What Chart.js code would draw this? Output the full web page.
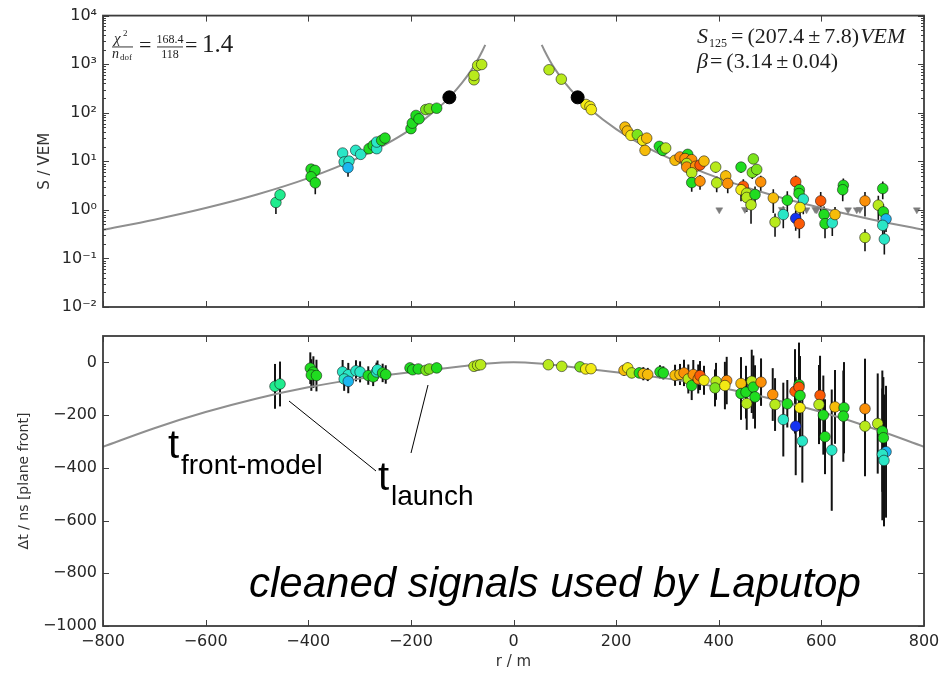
<!DOCTYPE html>
<html><head><meta charset="utf-8">
<script src="https://cdn.jsdelivr.net/npm/chart.js@4.4.1/dist/chart.umd.min.js"></script>
<style>
html,body{margin:0;padding:0;background:#fff;}
#wrap{position:relative;width:951px;height:677px;overflow:hidden;background:#fff;}
canvas{position:absolute;left:0;top:0;}
</style></head><body>
<div id="wrap"><canvas id="top" width="951" height="677"></canvas><canvas id="bot" width="951" height="677"></canvas></div>
<script>
// ---------- tick labels ----------
const xTicks = [-800, -600, -400, -200, 0, 200, 400, 600, 800];
const sTickValues = [0.01, 0.1, 1, 10, 100, 1000, 10000];
const sTickLabels = ['10⁻²', '10⁻¹', '10⁰', '10¹', '10²', '10³', '10⁴'];
const tTicks = [-1000, -800, -600, -400, -200, 0];

// ---------- top panel: signal vs distance ----------
const topR = [-463, -455, -394.5, -386.8, -394.5, -386.3, -333, -330, -320.6, -322.5, -307.6, -297.8, -281.6, -273.3, -266.6, -266.6, -256.9, -250.4, -199.8, -197.2, -190, -184.2, -171.1, -164.1, -149.7, -77, -77, -69.8, -62,
  69.2, 93.2, 141.3, 149, 151.7, 217.3, 221.8, 229, 241.3, 251.8, 259.6, 256.3, 284.2, 290.8, 296.6, 314.8, 324.5, 339.5, 334.3, 347.3, 337.6, 337.6, 355, 363.5, 371.3, 347.3, 347.3, 363.5, 394, 396, 413.6, 417.5, 443.4, 447.9, 443.4, 454.5, 454.5, 467.4, 465.4, 474, 470.7, 462.9, 481.8, 506.3, 509.7, 525.8, 533.6, 550, 557, 556.4, 564.8, 558.4, 550, 557, 598.7, 605.2, 607.1, 621.3, 626.6, 642.8, 641.6, 685, 685, 711, 719.6, 720.8, 726, 719.6, 722.7];
const topS = [1.42, 2.04, 6.9, 6.5, 4.8, 3.6, 14.8, 9.7, 10.1, 7.4, 16.8, 13.9, 18.2, 21.3, 18.2, 24.9, 27, 30.1, 47, 61, 88, 75, 116, 121, 124, 477, 585, 940, 985,
  766, 491, 148, 135, 116, 50.7, 42, 34.2, 35.4, 27, 30, 16.8, 20.3, 16.8, 18.8, 10.5, 12.3, 13.9, 11.4, 10.8, 9.0, 7.6, 7.9, 8.4, 10.1, 5.8, 3.65, 3.9, 7.6, 3.6, 5.0, 3.5, 7.6, 3.07, 2.6, 2.2, 1.8, 11.2, 5.9, 6.8, 2.07, 1.27, 3.76, 1.76, 0.56, 0.80, 1.58, 3.8, 2.6, 2.17, 1.66, 1.12, 0.67, 0.52, 1.53, 0.80, 0.52, 0.54, 0.80, 3.2, 2.6, 1.53, 0.27, 1.25, 2.75, 0.91, 0.65, 0.48, 0.25];
const topErr = [0.6, 0.6, 1.6, 1.6, 1.4, 1.5, 2.2, 2.0, 2.0, 2.6, 2.2, 2.0, 2.4, 2.6, 2.4, 2.8, 3, 3.2, 4, 4.6, 5.5, 5, 6.5, 6.7, 6.8, 14, 16, 20, 20,
  30, 25, 9, 8, 7, 4.5, 4, 3.5, 3.5, 3, 3.2, 2.5, 2.8, 2.5, 2.7, 2, 2.2, 2.4, 2.1, 2, 1.9, 1.8, 1.8, 1.9, 2, 1.6, 1.3, 1.3, 1.8, 1.3, 1.5, 1.3, 1.8, 1.2, 1.1, 1.0, 0.9, 2.2, 1.6, 1.7, 0.95, 0.75, 1.3, 0.9, 0.28, 0.38, 0.85, 1.3, 1.1, 1.0, 0.85, 0.7, 0.3, 0.26, 0.8, 0.38, 0.26, 0.25, 0.35, 1.2, 1.1, 0.8, 0.13, 0.7, 1.1, 0.4, 0.3, 0.22, 0.13];
const topCol = ('SSGGGGTTTCTTGGTTGGGGGGHHGLLLL' +
  'LLYYYOOYHYOOGGLORGRRLRRDOLGRLLORGDYLLHHHGLROLTGDGGTYBDDGGTOGGRLLGGCTT').split('');

const s125R = [-125, 125];
const s125S = [207.4, 207.4];

const silentR = [401, 451, 523, 571, 588, 591, 652, 669, 675, 786];
const silentS = [1.0, 1.02, 1.02, 1.0, 1.02, 1.0, 1.0, 1.0, 1.02, 1.0];

// lateral distribution fit (distance from axis, S)
const fitR = [55, 60, 70, 80, 100, 125, 150, 200, 250, 300, 400, 500, 600, 700, 800];
const fitS = [2500, 1936, 1225, 820, 415, 207.4, 116.5, 46.1, 22.1, 12.0, 4.50, 2.07, 1.09, 0.628, 0.388];

// ---------- bottom panel: time residuals ----------
const botR = [-464.8, -455, -396, -390, -394, -384, -333, -322, -330, -322, -307, -299, -283, -273.5, -267, -265, -255, -249, -201.7, -196.5, -185.5, -170.5, -164, -149.7, -77, -70, -64,
  67.9, 94, 129.6, 140.7, 151, 215.4, 222.6, 230.4, 245.2, 253, 261.6, 285.5, 292, 314.8, 324.5, 332.3, 340.7, 347.3, 350.4, 360, 363.5, 371.3, 394.7, 392.7, 415.5, 412, 443.4, 443.4, 453.1, 454.5, 464.3, 467.4, 470.7, 482.4, 505.2, 509.7, 525.8, 533.6, 548.6, 556.4, 556.4, 558.4, 558.4, 550, 562.9, 597.4, 595.4, 603.8, 607.1, 620.2, 626.6, 644.1, 642.8, 685, 685, 709.8, 718.8, 720.8, 726, 718.8, 722];
const botT = [-91, -82, -22, -37, -48, -50, -36, -47, -63, -72, -32, -36, -50, -55, -36, -28, -40, -46, -21, -28, -25, -30, -25, -21, -15, -11, -9,
  -9, -15, -17, -25, -24, -30, -21, -40, -40, -43, -46, -36, -40, -49, -46, -40, -63, -88, -46, -63, -50, -68, -72, -97, -69, -88, -80, -118, -113, -156, -72, -94, -131, -75, -122, -160, -217, -157, -110, -85, -94, -126, -172, -242, -298, -125, -160, -200, -282, -333, -169, -172, -204, -176, -242, -232, -261, -286, -339, -349, -372];
const botErr = [85, 85, 60, 60, 60, 60, 45, 45, 45, 45, 40, 40, 35, 35, 35, 35, 35, 35, 10, 10, 10, 10, 10, 10, 5, 5, 5,
  5, 5, 8, 8, 8, 20, 20, 20, 20, 25, 25, 25, 25, 40, 40, 50, 55, 55, 55, 55, 55, 55, 70, 70, 90, 90, 100, 100, 100, 100, 120, 120, 120, 90, 100, 100, 140, 90, 160, 160, 160, 150, 150, 186, 158, 150, 150, 150, 142, 230, 140, 173, 173, 190, 190, 190, 230, 230, 250, 250, 250];
const botCol = ('SSGGGGTTTCTTGGTTGGGGGHHGLLL' +
  'LLHYYOYLGOOGGOORLGRRDYLHRYOGGLLGGRRLTGDGDGYBTDLGGTOGGRLLGGCTT').split('');

// curvature fit of the shower front (|r|, dt)
const frontR = [0, 50, 100, 150, 200, 250, 300, 400, 500, 600, 700, 800];
const frontT = [0, -4.4, -14.6, -26.1, -37.1, -48.6, -61.7, -94.6, -136.9, -188.6, -249.7, -320.2];

// ---------- styling ----------
const palette = {B:'#1432f0', C:'#1cb6f0', T:'#2ae6c6', S:'#20ec8e', G:'#20dc20', H:'#7ce41c', L:'#b8ea1c', Y:'#f2ea14', O:'#f6bc0a', R:'#fb9008', D:'#fb5a06'};
const TICKFONT = {family:'"DejaVu Sans", sans-serif', size:16};
const TICKCOLOR = '#262626';
const SERIF = '"Liberation Serif","DejaVu Serif",serif';
const SANS = '"Liberation Sans", Arial, sans-serif';
const fmtMinus = v => (v < 0 ? '\u2212' + Math.abs(v) : String(v));

const errPlugin = {
  id: 'errbars',
  beforeDatasetsDraw(chart) {
    const {ctx, chartArea: ca, scales: {x, y}} = chart;
    ctx.save();
    ctx.beginPath(); ctx.rect(ca.left, ca.top, ca.right - ca.left, ca.bottom - ca.top); ctx.clip();
    chart.data.datasets.forEach(ds => {
      if (!ds.err) return;
      ctx.strokeStyle = '#121212'; ctx.lineWidth = ds.errWidth || 1.5;
      ds.data.forEach((p, i) => {
        const e = ds.err[i];
        let lo = p.y - e, hi = p.y + e;
        if (y.type === 'logarithmic' && lo <= 0) lo = y.min;
        const px = x.getPixelForValue(p.x);
        ctx.beginPath(); ctx.moveTo(px, y.getPixelForValue(lo)); ctx.lineTo(px, y.getPixelForValue(hi)); ctx.stroke();
      });
    });
    ctx.restore();
  }
};

function framePlugin(isLog) {
  return {
    id: 'frame',
    afterDraw(chart) {
      const {ctx, chartArea: ca, scales: {x, y}} = chart;
      ctx.save();
      ctx.strokeStyle = '#404040'; ctx.lineWidth = 1;
      const seg = (a, b, c, d) => { ctx.beginPath(); ctx.moveTo(a, b); ctx.lineTo(c, d); ctx.stroke(); };
      xTicks.forEach(v => {
        const px = Math.round(x.getPixelForValue(v)) + 0.5;
        seg(px, ca.bottom, px, ca.bottom - 6); seg(px, ca.top, px, ca.top + 6);
      });
      const yt = isLog ? sTickValues : tTicks;
      yt.forEach(v => {
        const py = Math.round(y.getPixelForValue(v)) + 0.5;
        seg(ca.left, py, ca.left + 6, py); seg(ca.right, py, ca.right - 6, py);
      });
      if (isLog) {
        for (let d = -2; d < 4; d++) for (let m = 2; m < 10; m++) {
          const py = Math.round(y.getPixelForValue(m * Math.pow(10, d))) + 0.5;
          seg(ca.left, py, ca.left + 3, py); seg(ca.right, py, ca.right - 3, py);
        }
      }
      ctx.lineWidth = 1.8; ctx.strokeStyle = '#3c3c3c';
      ctx.strokeRect(ca.left, ca.top, ca.right - ca.left, ca.bottom - ca.top);
      ctx.restore();
    }
  };
}

const topText = {
  id: 'topText',
  afterDraw(chart) {
    const c = chart.ctx;
    c.save(); c.fillStyle = '#1e1e1e'; c.textBaseline = 'alphabetic'; c.textAlign = 'left';
    const t = (s, x, y, size, style) => { c.font = (style || 'normal') + ' ' + size + 'px ' + SERIF; c.fillText(s, x, y); return c.measureText(s).width; };
    // chi2 / ndof
    t('χ', 114, 43, 15, 'italic'); t('2', 123, 36, 9);
    c.fillRect(112, 46.5, 21, 0.9);
    t('n', 112, 58, 14, 'italic'); t('dof', 120, 60, 9);
    t('=', 139, 52, 22);
    c.textAlign = 'center'; t('168.4', 170, 43, 12); t('118', 170, 58, 12); c.textAlign = 'left';
    c.fillRect(157, 46.5, 26, 0.9);
    t('=', 185, 52, 22);
    t('1.4', 202, 52, 25);
    // S125 and beta, laid out piece by piece
    let x = 697;
    x += t('S', x, 43, 22, 'italic') + 1;
    x += t('125', x, 47, 12) + 4;
    x += t('=', x, 43, 22) + 4;
    x += t('(207.4', x, 43, 22) + 4;
    x += t('±', x, 43, 22) + 4;
    x += t('7.8)', x, 43, 22) + 1;
    t('VEM', x, 43, 22, 'italic');
    x = 697;
    x += t('β', x, 68, 22, 'italic') + 2;
    x += t('=', x, 68, 22) + 4;
    x += t('(3.14', x, 68, 22) + 4;
    x += t('±', x, 68, 22) + 4;
    t('0.04)', x, 68, 22);
    c.restore();
  }
};

const botText = {
  id: 'botText',
  afterDraw(chart) {
    const c = chart.ctx;
    c.save(); c.fillStyle = '#000'; c.textBaseline = 'alphabetic'; c.textAlign = 'left';
    const t = (s, x, y, size, style) => { c.font = (style || 'normal') + ' ' + size + 'px ' + SANS; c.fillText(s, x, y); };
    t('t', 168, 458, 40); t('front-model', 181, 474, 28);
    t('t', 378, 490, 40); t('launch', 391, 505, 28);
    c.strokeStyle = '#000'; c.lineWidth = 1;
    c.beginPath(); c.moveTo(289, 401); c.lineTo(376, 471); c.stroke();
    c.beginPath(); c.moveTo(411, 453); c.lineTo(428, 385); c.stroke();
    t('cleaned signals used by Laputop', 249, 597, 42, 'italic');
    c.restore();
  }
};

const baseX = {type: 'linear', min: -800, max: 800, grid: {display: false, drawTicks: false}, border: {display: false}};

// ---------- top chart ----------
new Chart(document.getElementById('top'), {
  type: 'scatter',
  data: {datasets: [
    {label: 'S125', data: s125R.map((r, i) => ({x: r, y: s125S[i]})), backgroundColor: '#000', borderColor: '#000', borderWidth: 1, pointRadius: 6.5, order: 0},
    {label: 'stations', data: topR.map((r, i) => ({x: r, y: topS[i]})), err: topErr, errWidth: 1.6,
     backgroundColor: topCol.map(k => palette[k]), borderColor: 'rgba(20,20,20,0.7)', borderWidth: 0.8, pointRadius: 5.3, order: 1},
    {label: 'silent', data: silentR.map((r, i) => ({x: r, y: silentS[i]})), pointStyle: 'triangle', rotation: 180,
     backgroundColor: '#7c7c7c', borderColor: '#7c7c7c', borderWidth: 0.5, pointRadius: 4, order: 2},
    {type: 'line', label: 'fit left', data: fitR.map((r, i) => ({x: -r, y: fitS[i]})).reverse(), borderColor: '#8f8f8f', borderWidth: 2,
     pointRadius: 0, cubicInterpolationMode: 'monotone', fill: false, order: 3},
    {type: 'line', label: 'fit right', data: fitR.map((r, i) => ({x: r, y: fitS[i]})), borderColor: '#8f8f8f', borderWidth: 2,
     pointRadius: 0, cubicInterpolationMode: 'monotone', fill: false, order: 3}
  ]},
  options: {
    responsive: false, animation: false, devicePixelRatio: 1,
    plugins: {legend: {display: false}, tooltip: {enabled: false}},
    layout: {padding: {left: 0, top: 15, right: 27, bottom: 0}},
    scales: {
      x: Object.assign({}, baseX, {ticks: {display: false}, afterFit(s) { s.height = 370; }}),
      y: {type: 'logarithmic', min: 0.01, max: 10000,
          grid: {display: false, drawTicks: false}, border: {display: false},
          afterBuildTicks(s) { s.ticks = sTickValues.map(v => ({value: v})); },
          ticks: {font: TICKFONT, color: TICKCOLOR, padding: 6,
                  callback: v => sTickLabels[sTickValues.indexOf(v)]},
          title: {display: true, text: 'S / VEM', font: {family: '"DejaVu Sans", sans-serif', size: 15}, color: '#333', padding: {top: 36, bottom: 0}},
          afterFit(s) { s.width = 103; }}
    }
  },
  plugins: [errPlugin, framePlugin(true), topText]
});

// ---------- bottom chart ----------
const frontData = frontR.slice(1).reverse().map(r => ({x: -r, y: frontT[frontR.indexOf(r)]}))
  .concat(frontR.map((r, i) => ({x: r, y: frontT[i]})));

new Chart(document.getElementById('bot'), {
  type: 'scatter',
  data: {datasets: [
    {label: 'stations', data: botR.map((r, i) => ({x: r, y: botT[i]})), err: botErr, errWidth: 2,
     backgroundColor: botCol.map(k => palette[k]), borderColor: 'rgba(20,20,20,0.7)', borderWidth: 0.8, pointRadius: 5.3, order: 1},
    {type: 'line', label: 'front model', data: frontData, borderColor: '#8f8f8f', borderWidth: 2,
     pointRadius: 0, cubicInterpolationMode: 'monotone', fill: false, order: 3}
  ]},
  options: {
    responsive: false, animation: false, devicePixelRatio: 1,
    plugins: {legend: {display: false}, tooltip: {enabled: false}},
    layout: {padding: {left: 0, top: 336, right: 27, bottom: 0}},
    scales: {
      x: Object.assign({}, baseX, {
        afterBuildTicks(s) { s.ticks = xTicks.map(v => ({value: v})); },
        ticks: {font: TICKFONT, color: TICKCOLOR, padding: 6, maxRotation: 0, autoSkip: false, callback: v => fmtMinus(v)},
        title: {display: true, text: 'r / m', font: {family: '"DejaVu Sans", sans-serif', size: 15}, color: '#333', padding: {top: 0, bottom: 6}},
        afterFit(s) { s.height = 51; }}),
      y: {type: 'linear', min: -1000, max: 100,
          grid: {display: false, drawTicks: false}, border: {display: false},
          afterBuildTicks(s) { s.ticks = tTicks.map(v => ({value: v})); },
          ticks: {font: TICKFONT, color: TICKCOLOR, padding: 6, callback: v => fmtMinus(v)},
          title: {display: true, text: 'Δt / ns [plane front]', font: {family: '"DejaVu Sans", sans-serif', size: 14}, color: '#333', padding: {top: 16, bottom: 0}},
          afterFit(s) { s.width = 103; }}
    }
  },
  plugins: [errPlugin, framePlugin(false), botText]
});
</script>
</body></html>
